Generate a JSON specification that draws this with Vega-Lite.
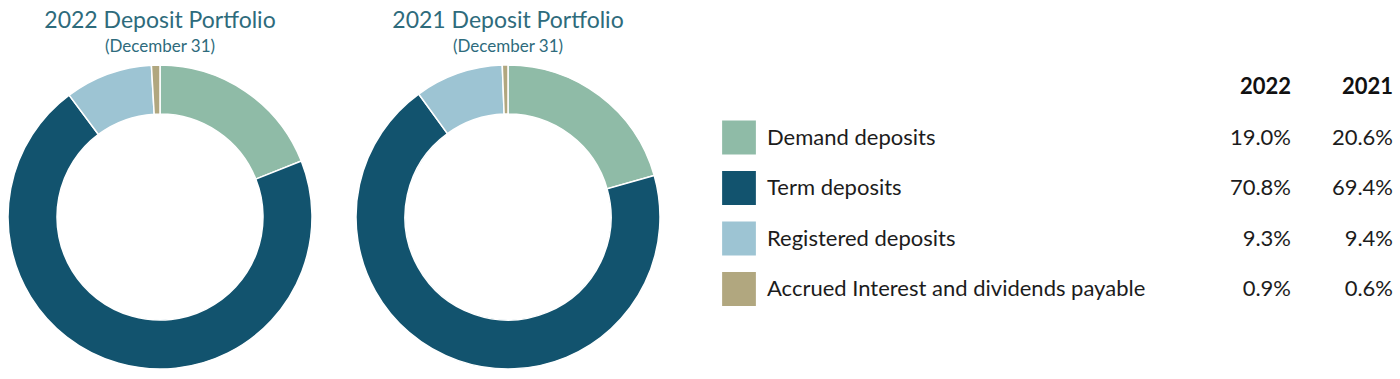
{
  "$schema": "https://vega.github.io/schema/vega-lite/v6.json",
  "padding": {"top": 10, "left": 0, "right": 0, "bottom": 0},
  "spacing": 28,
  "background": "white",
  "config": {
    "view": {"stroke": null},
    "font": "Lato",
    "title": {"font": "Lato", "subtitleFont": "Lato"}
  },
  "datasets": {
    "deposits": [
      {"year": "2022", "category": "Demand deposits", "idx": 1, "share": 0.190},
      {"year": "2022", "category": "Term deposits", "idx": 2, "share": 0.708},
      {"year": "2022", "category": "Registered deposits", "idx": 3, "share": 0.093},
      {"year": "2022", "category": "Accrued Interest and dividends payable", "idx": 4, "share": 0.009},
      {"year": "2021", "category": "Demand deposits", "idx": 1, "share": 0.206},
      {"year": "2021", "category": "Term deposits", "idx": 2, "share": 0.694},
      {"year": "2021", "category": "Registered deposits", "idx": 3, "share": 0.094},
      {"year": "2021", "category": "Accrued Interest and dividends payable", "idx": 4, "share": 0.006}
    ],
    "headers": [
      {"year": "2022", "category": "header"},
      {"year": "2021", "category": "header"}
    ]
  },
  "hconcat": [
    {
      "width": 320,
      "height": 304,
      "title": {
        "text": "2022 Deposit Portfolio",
        "subtitle": "(December 31)",
        "anchor": "middle",
        "fontSize": 23,
        "fontWeight": "normal",
        "color": "#2e6b7c",
        "subtitleFontSize": 17,
        "subtitleColor": "#2e6b7c",
        "subtitlePadding": 6,
        "offset": 7
      },
      "data": {"name": "deposits"},
      "transform": [{"filter": "datum.year === '2022'"}],
      "mark": {"type": "arc", "outerRadius": 152, "innerRadius": 103, "stroke": "white", "strokeWidth": 1.5},
      "encoding": {
        "theta": {"field": "share", "type": "quantitative", "stack": true},
        "order": {"field": "idx", "type": "quantitative"},
        "color": {
          "field": "category",
          "type": "nominal",
          "legend": null,
          "scale": {
            "domain": ["Demand deposits", "Term deposits", "Registered deposits", "Accrued Interest and dividends payable"],
            "range": ["#8fbba7", "#12536e", "#9dc4d3", "#b1a77f"]
          }
        }
      }
    },
    {
      "width": 320,
      "height": 304,
      "title": {
        "text": "2021 Deposit Portfolio",
        "subtitle": "(December 31)",
        "anchor": "middle",
        "fontSize": 23,
        "fontWeight": "normal",
        "color": "#2e6b7c",
        "subtitleFontSize": 17,
        "subtitleColor": "#2e6b7c",
        "subtitlePadding": 6,
        "offset": 7
      },
      "data": {"name": "deposits"},
      "transform": [{"filter": "datum.year === '2021'"}],
      "mark": {"type": "arc", "outerRadius": 152, "innerRadius": 103, "stroke": "white", "strokeWidth": 1.5},
      "encoding": {
        "theta": {"field": "share", "type": "quantitative", "stack": true},
        "order": {"field": "idx", "type": "quantitative"},
        "color": {
          "field": "category",
          "type": "nominal",
          "legend": null,
          "scale": {
            "domain": ["Demand deposits", "Term deposits", "Registered deposits", "Accrued Interest and dividends payable"],
            "range": ["#8fbba7", "#12536e", "#9dc4d3", "#b1a77f"]
          }
        }
      }
    },
    {
      "width": 704,
      "height": 304,
      "data": {"name": "deposits"},
      "encoding": {
        "y": {
          "field": "category",
          "type": "nominal",
          "axis": null,
          "scale": {
            "type": "point",
            "padding": 0,
            "domain": ["header", "Demand deposits", "Term deposits", "Registered deposits", "Accrued Interest and dividends payable"],
            "range": [22, 224]
          }
        }
      },
      "layer": [
        {
          "transform": [{"filter": "datum.year === '2022'"}],
          "mark": {"type": "point", "shape": "square", "filled": true, "size": 1140, "opacity": 1},
          "encoding": {
            "x": {"datum": 43, "type": "quantitative", "axis": null, "scale": {"domain": [0, 704], "range": [0, 704], "nice": false, "zero": false}},
            "color": {
              "field": "category",
              "type": "nominal",
              "legend": null,
              "scale": {
                "domain": ["Demand deposits", "Term deposits", "Registered deposits", "Accrued Interest and dividends payable"],
                "range": ["#8fbba7", "#12536e", "#9dc4d3", "#b1a77f"]
              }
            }
          }
        },
        {
          "transform": [{"filter": "datum.year === '2022'"}],
          "mark": {"type": "text", "align": "left", "baseline": "middle", "fontSize": 22, "color": "#1c1c1c"},
          "encoding": {
            "x": {"datum": 71, "type": "quantitative"},
            "text": {"field": "category"}
          }
        },
        {
          "transform": [{"filter": "datum.year === '2022'"}],
          "mark": {"type": "text", "align": "right", "baseline": "middle", "fontSize": 22, "color": "#1c1c1c"},
          "encoding": {
            "x": {"datum": 595, "type": "quantitative"},
            "text": {"field": "share", "format": ".1%"}
          }
        },
        {
          "transform": [{"filter": "datum.year === '2021'"}],
          "mark": {"type": "text", "align": "right", "baseline": "middle", "fontSize": 22, "color": "#1c1c1c"},
          "encoding": {
            "x": {"datum": 697, "type": "quantitative"},
            "text": {"field": "share", "format": ".1%"}
          }
        },
        {
          "data": {"name": "headers"},
          "transform": [{"filter": "datum.year === '2022'"}],
          "mark": {"type": "text", "align": "right", "baseline": "middle", "fontSize": 22, "fontWeight": "bold", "color": "#111111"},
          "encoding": {
            "x": {"datum": 595, "type": "quantitative"},
            "text": {"field": "year"}
          }
        },
        {
          "data": {"name": "headers"},
          "transform": [{"filter": "datum.year === '2021'"}],
          "mark": {"type": "text", "align": "right", "baseline": "middle", "fontSize": 22, "fontWeight": "bold", "color": "#111111"},
          "encoding": {
            "x": {"datum": 697, "type": "quantitative"},
            "text": {"field": "year"}
          }
        }
      ]
    }
  ]
}
